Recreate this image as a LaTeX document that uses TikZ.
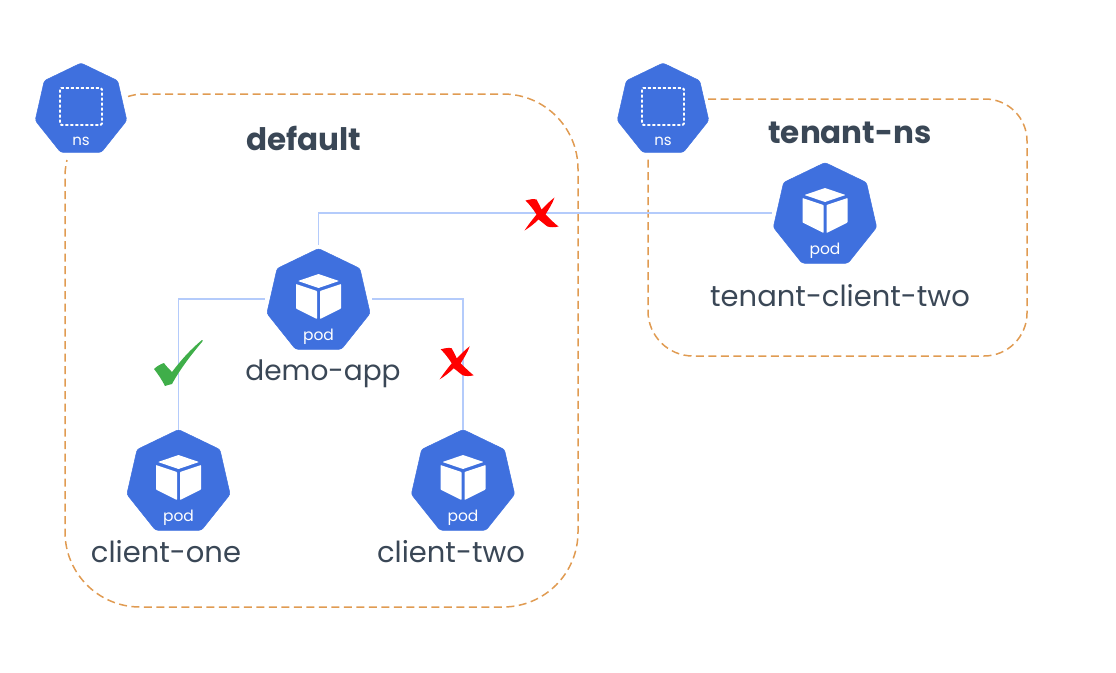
\documentclass[tikz,border=0pt]{standalone}
\usepackage{fontspec}
\setmainfont{Poppins}
\usetikzlibrary{shapes.geometric}
\definecolor{k8s}{HTML}{3F70DE}
\definecolor{linkblue}{HTML}{B4CBFB}
\definecolor{boxorange}{HTML}{E09B52}
\definecolor{ink}{HTML}{3A4756}
\definecolor{okgreen}{HTML}{3FAE49}
\tikzset{
  x=1pt,y=-1pt,
  hept/.style={regular polygon,regular polygon sides=7,fill=k8s,draw=k8s,line width=0.5pt,rounded corners=2.5pt,inner sep=0pt,outer sep=0pt},
  podhept/.style={hept,minimum size=106pt},
  nshept/.style={hept,minimum size=94pt},
  link/.style={draw=linkblue,line width=1.8pt},
  zone/.style={draw=boxorange,line width=1.5pt,dash pattern=on 8pt off 4.5pt},
  label/.style={text=ink,font=\fontsize{29}{34}\selectfont,inner sep=0pt},
  title/.style={text=ink,font=\fontsize{31}{36}\selectfont\bfseries,inner sep=0pt},
  podtag/.style={text=white,font=\fontsize{15.5}{16}\selectfont,inner sep=0pt},
  nstag/.style={text=white,font=\fontsize{15}{16}\selectfont,inner sep=0pt},
  cube/.pic={
    \fill[white,rounded corners=0.6pt] (0,-27.5) -- (20.5,-20.5) -- (0,-13.5) -- (-20.5,-20.5) -- cycle;
    \fill[white,rounded corners=0.6pt] (-22.5,-17.5) -- (-1.5,-10.5) -- (-1.5,17.5) -- (-22.5,7) -- cycle;
    \fill[white,rounded corners=0.6pt] (22.5,-17.5) -- (1.5,-10.5) -- (1.5,17.5) -- (22.5,7) -- cycle;
    \node[podtag] (-tag) at (0,35) {pod};
  },
  nsicon/.pic={
    \draw[white,line width=1.8pt,dash pattern=on 3pt off 2pt,rounded corners=1.5pt] (-21,-22) rectangle (21,15);
    \node[nstag] (-tag) at (0,31) {ns};
  },
  redx/.pic={
    \fill[red] (-16,-14) .. controls (-12,-15) and (-8,-16) .. (-5,-15) .. controls (-3,-11) and (-1,-8) .. (0,-5) .. controls (4,-9) and (9,-14) .. (13,-17)
      .. controls (11,-11) and (7,-5) .. (4,0) .. controls (8,4) and (13,9) .. (17,12) .. controls (13,13) and (9,13) .. (6,12)
      .. controls (3,10) and (0,7) .. (-3,5) .. controls (-7,9) and (-12,13) .. (-17,16) .. controls (-13,10) and (-9,5) .. (-5,0) .. controls (-8,-5) and (-12,-10) .. (-16,-14) -- cycle;
  },
  greencheck/.pic={
    \fill[okgreen] (154,369) .. controls (157,366) and (161,364) .. (164,363) .. controls (166,366) and (169,369) .. (172,372)
      .. controls (181,360) and (191,349) .. (202,340) .. controls (203,340) and (203,341) .. (202,342)
      .. controls (190,356) and (179,371) .. (172,384) .. controls (169,385) and (167,385) .. (165,386) .. controls (162,380) and (158,374) .. (154,369) -- cycle;
  },
}
\begin{document}
\begin{tikzpicture}
\useasboundingbox (0,0) rectangle (1116,672);
% namespaces
\draw[zone] (128,96.5) .. controls (133,95) and (138,94) .. (143,94) -- (503,94) arc[start angle=-90,end angle=0,radius=75] -- (578,532) arc[start angle=0,end angle=90,radius=75] -- (140,607) arc[start angle=90,end angle=180,radius=75] -- (65,175) .. controls (65,170) and (66,165) .. (67,160);
\draw[zone] (708,99) -- (985,99) arc[start angle=-90,end angle=0,radius=42] -- (1027,313) arc[start angle=0,end angle=90,radius=43] -- (693,356) arc[start angle=90,end angle=180,radius=45] -- (648,156);
% pods
\node[podhept] (demo) at (318.5,301.5) {};
\node[podhept] (one) at (178.5,482.5) {};
\node[podhept] (two) at (463,482.5) {};
\node[podhept] (tenant) at (825,215.5) {};
\node[nshept] (nsdefault) at (81,110) {};
\node[nshept] (nstenant) at (663,110) {};
\pic (demoicon) at (demo.center) {cube};
\pic (oneicon) at (one.center) {cube};
\pic (twoicon) at (two.center) {cube};
\pic (tenanticon) at (tenant.center) {cube};
\pic (nsa) at (nsdefault.center) {nsicon};
\pic (nsb) at (nstenant.center) {nsicon};
% connectors
\draw[link] ([xshift=-5pt,yshift=2.5pt]demo.west) -| (one.north);
\draw[link] ([xshift=5pt,yshift=2.5pt]demo.east) -| (two.north);
\draw[link] ([yshift=4pt]demo.north) |- ([xshift=-4pt,yshift=2.5pt]tenant.west);
% marks
\pic (checkone) at (0,0) {greencheck};
\pic (xtwo) at (456.7,363.3) {redx};
\pic (xtenant) at (541.5,214.5) {redx};
% labels
\node[title] (deftitle) at (304,138.5) {default};
\node[title] (tentitle) at (850,133) {tenant-ns};
\node[label,font=\fontsize{28}{34}\selectfont] (demolabel) at (323,374) {demo-app};
\node[label] (onelabel) at (166,552) {client-one};
\node[label] (twolabel) at (451,552) {client-two};
\node[label] (tenlabel) at (840,296) {tenant-client-two};
\end{tikzpicture}
\end{document}
